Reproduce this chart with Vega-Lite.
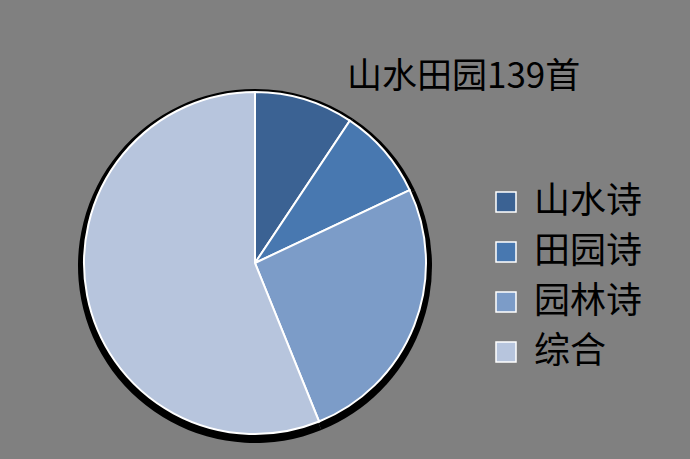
{
  "$schema": "https://vega.github.io/schema/vega-lite/v6.json",
  "width": 344,
  "height": 344,
  "autosize": {"type": "none"},
  "padding": {"left": 83, "top": 91, "right": 263, "bottom": 24},
  "background": "#808080",
  "view": {"stroke": null},
  "title": {
    "text": "山水田园139首",
    "font": "Noto Sans CJK SC",
    "fontSize": 35,
    "fontWeight": "normal",
    "color": "#000000",
    "anchor": "start",
    "frame": "group",
    "orient": "top",
    "dx": 264,
    "dy": 11
  },
  "data": {
    "values": [
      {"类别": "山水诗", "首数": 13, "序": 1},
      {"类别": "田园诗", "首数": 12, "序": 2},
      {"类别": "园林诗", "首数": 36, "序": 3},
      {"类别": "综合", "首数": 78, "序": 4}
    ]
  },
  "layer": [
    {
      "mark": {"type": "arc", "outerRadius": 177, "fill": "#000000", "yOffset": 3},
      "encoding": {
        "theta": {"field": "首数", "type": "quantitative", "stack": true},
        "order": {"field": "序", "type": "quantitative"}
      }
    },
    {
      "mark": {"type": "arc", "outerRadius": 171, "stroke": "#ffffff", "strokeWidth": 2},
      "encoding": {
        "theta": {"field": "首数", "type": "quantitative", "stack": true},
        "order": {"field": "序", "type": "quantitative"},
        "color": {
          "field": "类别",
          "type": "nominal",
          "scale": {
            "domain": ["山水诗", "田园诗", "园林诗", "综合"],
            "range": ["#3B6293", "#4878B0", "#7C9CC8", "#B7C5DD"]
          },
          "legend": {
            "orient": "none",
            "legendX": 405,
            "legendY": 93,
            "title": null,
            "symbolType": "square",
            "symbolSize": 400,
            "symbolStrokeColor": "#ffffff",
            "symbolStrokeWidth": 1.5,
            "symbolOpacity": 1,
            "labelFont": "Noto Sans CJK SC",
            "labelFontSize": 36,
            "labelColor": "#000000",
            "labelOffset": 10,
            "rowPadding": 14,
            "labelLimit": 300
          }
        }
      }
    }
  ]
}
